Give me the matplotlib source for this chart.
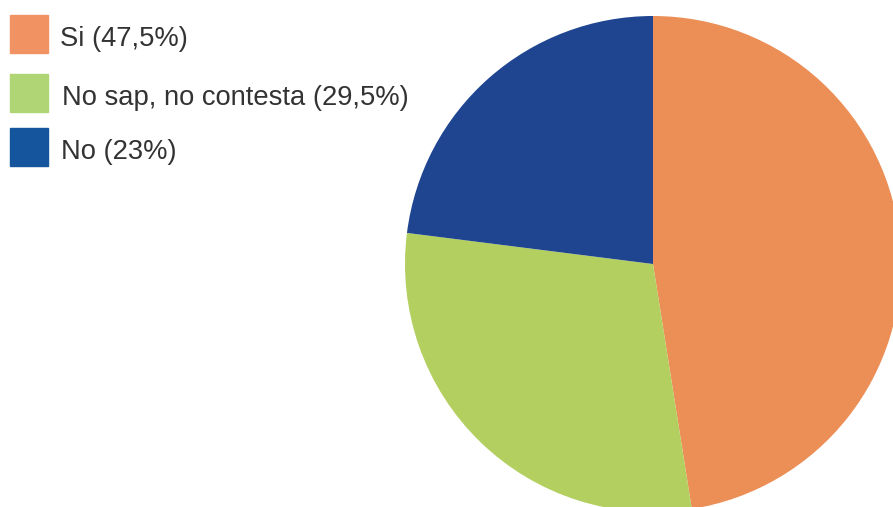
import matplotlib
matplotlib.use('Agg')
import matplotlib.pyplot as plt
from matplotlib.patches import Rectangle

plt.rcParams['font.family'] = ['Liberation Sans', 'DejaVu Sans']

# dades
etiquetes = ['Si (47,5%)', 'No sap, no contesta (29,5%)', 'No (23%)']
valors = [47.5, 29.5, 23]
colors_pastis = ['#EB8F57', '#B3CF5F', '#1F4591']
colors_llegenda = ['#F09262', '#B0D574', '#14559E']

fig = plt.figure(figsize=(8.93, 5.07), dpi=100)

# pastis: centre (653, 264) px, radi 248 px
ax = fig.add_axes([405 / 893, -5 / 507, 496 / 893, 496 / 507])
ax.pie(valors, colors=colors_pastis, startangle=90, counterclock=False,
       radius=1, wedgeprops={'linewidth': 0})
ax.set_xlim(-1, 1)
ax.set_ylim(-1, 1)
ax.set_aspect('equal')
ax.axis('off')

# llegenda manual
y_centres = [34, 93, 147]
x_text = [60, 62, 61]
for etiqueta, color, yc, xt in zip(etiquetes, colors_llegenda, y_centres, x_text):
    fig.patches.append(Rectangle((10 / 893, 1 - (yc + 19) / 507), 38 / 893, 38 / 507,
                                 transform=fig.transFigure, color=color))
    fig.text(xt / 893, 1 - (yc + 5) / 507, etiqueta, fontsize=19.7,
             color='#333333', va='center', ha='left')

plt.savefig('out.png', dpi=100)
